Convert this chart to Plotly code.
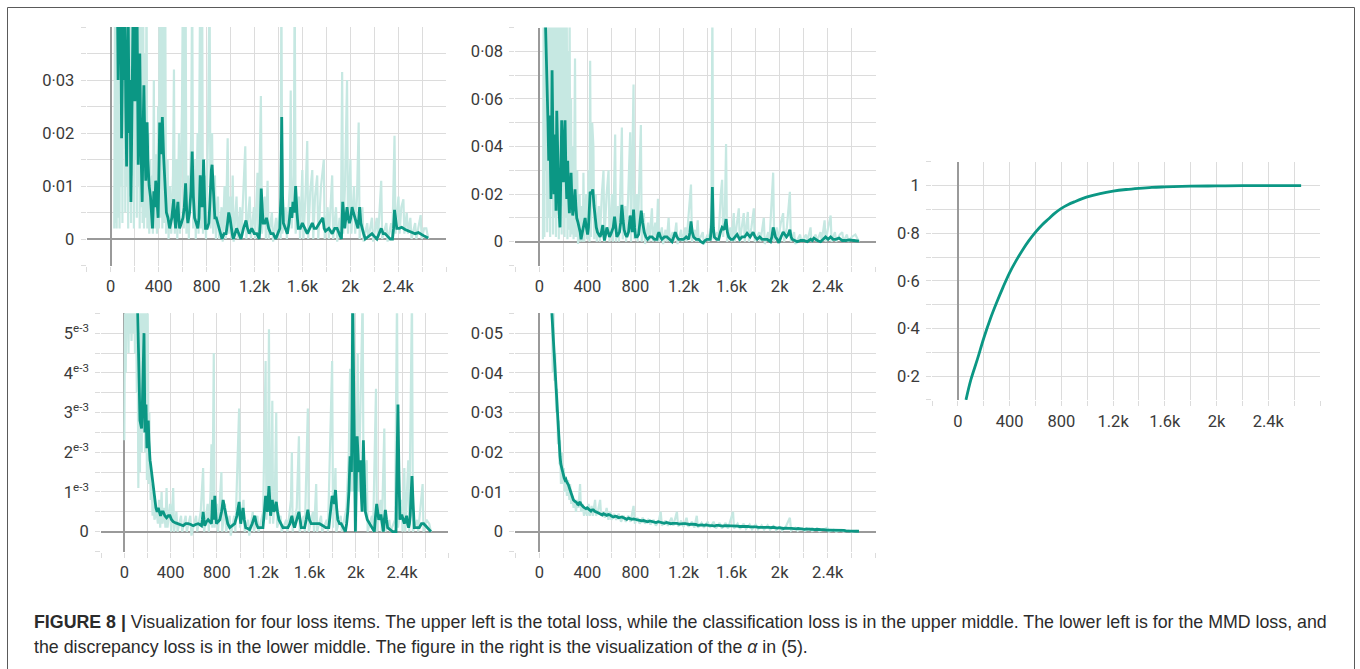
import plotly.graph_objects as go

# ---------------- data ----------------
# Panel 1: total loss
total_raw_x = [30, 36, 40, 45, 50, 56, 62, 68, 74, 80, 86, 92, 98, 104, 110, 116, 122, 128, 134, 140, 146, 152, 158, 164, 170, 176, 182, 188, 194, 200, 206, 212, 218, 224, 230, 236, 242, 248, 254, 260, 266, 272, 278, 285, 292, 299, 306, 315, 322, 330, 338, 345, 352, 360, 367, 378, 386, 396, 403, 409, 416, 424, 431, 440, 447, 455, 462, 475, 483, 495, 505, 520, 528, 535, 548, 556, 570, 578, 595, 603, 610, 625, 632, 645, 652, 672, 680, 688, 700, 710, 725, 733, 747, 754, 763, 770, 785, 795, 812, 825, 833, 846, 855, 870, 878, 895, 905, 925, 935, 950, 960, 976, 985, 1000, 1010, 1018, 1026, 1050, 1060, 1080, 1090, 1123, 1132, 1160, 1170, 1195, 1205, 1225, 1233, 1253, 1262, 1285, 1295, 1309, 1318, 1345, 1355, 1380, 1390, 1410, 1418, 1424, 1432, 1460, 1470, 1495, 1502, 1510, 1528, 1535, 1543, 1570, 1580, 1599, 1608, 1625, 1640, 1648, 1665, 1682, 1690, 1705, 1723, 1732, 1755, 1778, 1786, 1810, 1820, 1848, 1856, 1880, 1890, 1910, 1920, 1931, 1940, 1955, 1972, 1980, 2000, 2008, 2030, 2040, 2055, 2069, 2077, 2100, 2110, 2140, 2150, 2180, 2190, 2220, 2230, 2257, 2265, 2300, 2310, 2340, 2350, 2368, 2376, 2401, 2410, 2425, 2442, 2450, 2470, 2480, 2500, 2510, 2540, 2550, 2586, 2595, 2615, 2633, 2650]
total_raw_y = [0.002, 0.045, 0.003, 0.05, 0.002, 0.05, 0.004, 0.05, 0.002, 0.05, 0.01, 0.05, 0.003, 0.05, 0.02, 0.05, 0.005, 0.05, 0.01, 0.05, 0.002, 0.05, 0.008, 0.05, 0.003, 0.05, 0.012, 0.05, 0.002, 0.05, 0.015, 0.05, 0.004, 0.05, 0.01, 0.05, 0.002, 0.045, 0.006, 0.05, 0.003, 0.04, 0.002, 0.035, 0.004, 0.05, 0.002, 0.02, 0.001, 0.015, 0.002, 0.012, 0.001, 0.03, 0.002, 0.016, 0.001, 0.025, 0.002, 0.05, 0.004, 0.05, 0.002, 0.05, 0.003, 0.05, 0.001, 0.015, 0.0, 0.01, 0.001, 0.012, 0.032, 0.001, 0.015, 0.0, 0.02, 0.001, 0.025, 0.05, 0.002, 0.05, 0.001, 0.012, 0.0, 0.02, 0.05, 0.002, 0.015, 0.0, 0.02, 0.001, 0.05, 0.002, 0.05, 0.001, 0.012, 0.0, 0.02, 0.05, 0.002, 0.02, 0.001, 0.012, 0.0, 0.008, 0.0, 0.006, -0.0005, 0.01, 0.0, 0.019, 0.001, 0.008, 0.0, 0.012, -0.0005, 0.008, 0.0, 0.006, 0.0, 0.0175, 0.0, 0.008, 0.0, 0.006, 0.0, 0.0125, 0.0, 0.027, 0.001, 0.008, 0.0, 0.011, 0.0, 0.005, -0.0005, 0.004, 0.0, 0.006, 0.0, 0.05, 0.001, 0.006, 0.0, 0.01, 0.028, 0.002, 0.012, 0.05, 0.001, 0.008, 0.0, 0.013, 0.0, 0.008, 0.0185, 0.0, 0.009, 0.013, 0.0, 0.008, 0.012, 0.0, 0.01, 0.015, 0.0, 0.006, 0.0, 0.012, 0.0, 0.006, -0.0005, 0.004, 0.0, 0.0315, 0.001, 0.01, 0.03, 0.001, 0.015, 0.001, 0.01, 0.001, 0.008, 0.022, 0.0, 0.006, -0.0005, 0.003, 0.0, 0.004, -0.0005, 0.004, 0.0, 0.011, 0.0, 0.003, -0.0005, 0.003, 0.0, 0.0195, 0.001, 0.008, 0.001, 0.006, 0.0075, 0.001, 0.005, 0.001, 0.004, 0.0, 0.003, 0.0, 0.0045, 0.0, 0.002, 0.002, 0.0]
total_x = [55, 62, 70, 77, 84, 91, 98, 105, 112, 119, 126, 133, 140, 147, 155, 162, 169, 176, 182, 188, 195, 202, 209, 215, 221, 226, 230, 236, 243, 250, 257, 263, 270, 277, 285, 293, 298, 304, 310, 321, 332, 340, 349, 360, 368, 376, 386, 396, 402, 409, 420, 431, 441, 451, 465, 478, 492, 510, 526, 534, 542, 552, 561, 568, 575, 590, 603, 614, 625, 635, 644, 651, 658, 670, 680, 690, 700, 714, 727, 737, 747, 755, 763, 770, 775, 783, 791, 805, 819, 826, 833, 840, 846, 858, 869, 881, 893, 911, 929, 946, 963, 975, 985, 995, 1004, 1014, 1023, 1037, 1051, 1069, 1087, 1108, 1129, 1142, 1156, 1177, 1198, 1219, 1239, 1248, 1256, 1264, 1272, 1286, 1300, 1318, 1336, 1356, 1377, 1394, 1411, 1420, 1427, 1434, 1441, 1458, 1474, 1488, 1502, 1512, 1521, 1532, 1543, 1554, 1565, 1582, 1599, 1620, 1640, 1661, 1682, 1698, 1715, 1742, 1770, 1781, 1792, 1820, 1848, 1869, 1889, 1907, 1925, 1936, 1945, 1953, 1962, 1972, 1982, 1992, 2003, 2014, 2025, 2036, 2050, 2063, 2070, 2077, 2087, 2097, 2110, 2124, 2152, 2180, 2200, 2221, 2239, 2257, 2274, 2290, 2311, 2332, 2351, 2360, 2368, 2378, 2387, 2408, 2428, 2456, 2484, 2512, 2540, 2567, 2594, 2620, 2649]
total_y = [0.05, 0.03, 0.045, 0.035, 0.045, 0.019, 0.04, 0.045, 0.03, 0.045, 0.025, 0.0137, 0.03, 0.04, 0.02, 0.03, 0.007, 0.02, 0.04, 0.045, 0.035, 0.026, 0.038, 0.045, 0.04, 0.02, 0.014, 0.025, 0.035, 0.02, 0.012, 0.007, 0.02, 0.029, 0.018, 0.011, 0.015, 0.022, 0.015, 0.01, 0.008, 0.005, 0.002, 0.009, 0.006, 0.011, 0.007, 0.004, 0.012, 0.022, 0.016, 0.023, 0.016, 0.012, 0.005, 0.004, 0.002, 0.004, 0.0075, 0.004, 0.002, 0.005, 0.007, 0.004, 0.002, 0.003, 0.004, 0.006, 0.0105, 0.005, 0.003, 0.004, 0.005, 0.009, 0.0165, 0.008, 0.004, 0.003, 0.002, 0.004, 0.012, 0.009, 0.006, 0.01, 0.015, 0.008, 0.002, 0.002, 0.003, 0.006, 0.012, 0.013, 0.014, 0.008, 0.004, 0.004, 0.003, 0.001, 0.0, 0.001, 0.001, 0.003, 0.005, 0.004, 0.002, 0.001, 0.0, 0.001, 0.002, 0.001, 0.0, 0.002, 0.0035, 0.002, 0.001, 0.002, 0.001, 0.001, 0.0, 0.003, 0.0095, 0.006, 0.003, 0.003, 0.004, 0.002, 0.001, 0.001, 0.0, 0.001, 0.002, 0.008, 0.023, 0.008, 0.003, 0.002, 0.001, 0.003, 0.006, 0.004, 0.007, 0.005, 0.01, 0.005, 0.002, 0.002, 0.003, 0.002, 0.001, 0.002, 0.003, 0.002, 0.002, 0.003, 0.004, 0.002, 0.0015, 0.002, 0.001, 0.002, 0.002, 0.001, 0.0, 0.007, 0.004, 0.002, 0.004, 0.006, 0.004, 0.003, 0.004, 0.006, 0.005, 0.004, 0.003, 0.002, 0.004, 0.006, 0.003, 0.002, 0.001, 0.0, 0.0005, 0.001, 0.0005, 0.0, 0.001, 0.002, 0.001, 0.001, 0.0005, 0.0, 0.0, 0.002, 0.0055, 0.003, 0.002, 0.002, 0.0022, 0.0018, 0.0015, 0.0012, 0.001, 0.0012, 0.0008, 0.0005, 0.0002]

# Panel 2: classification loss
cls_raw_x = [30, 36, 42, 48, 54, 60, 66, 72, 78, 84, 90, 96, 102, 108, 114, 120, 126, 132, 138, 144, 150, 156, 162, 168, 174, 180, 186, 192, 198, 204, 210, 216, 222, 228, 234, 240, 246, 252, 258, 264, 270, 278, 285, 297, 304, 315, 322, 335, 342, 355, 362, 367, 374, 390, 398, 410, 417, 423, 430, 440, 450, 457, 470, 478, 495, 503, 520, 534, 541, 560, 576, 584, 605, 613, 631, 638, 655, 663, 687, 694, 715, 722, 740, 756, 763, 784, 791, 810, 818, 835, 845, 852, 870, 880, 905, 915, 937, 945, 965, 975, 987, 995, 1020, 1030, 1050, 1060, 1076, 1085, 1110, 1120, 1140, 1150, 1180, 1190, 1215, 1225, 1262, 1270, 1295, 1305, 1318, 1326, 1360, 1370, 1400, 1410, 1432, 1440, 1448, 1480, 1490, 1510, 1521, 1530, 1545, 1554, 1562, 1590, 1600, 1618, 1626, 1645, 1660, 1668, 1685, 1701, 1710, 1735, 1744, 1765, 1785, 1793, 1830, 1840, 1868, 1876, 1905, 1915, 1946, 1954, 1975, 1985, 2010, 2029, 2037, 2060, 2085, 2093, 2120, 2130, 2170, 2180, 2220, 2230, 2257, 2265, 2300, 2310, 2340, 2350, 2374, 2382, 2400, 2424, 2432, 2460, 2470, 2500, 2521, 2530, 2560, 2570, 2600, 2630, 2660]
cls_raw_y = [0.001, 0.1, 0.002, 0.1, 0.03, 0.1, 0.004, 0.1, 0.01, 0.1, 0.002, 0.1, 0.02, 0.1, 0.003, 0.1, 0.01, 0.1, 0.002, 0.1, 0.02, 0.1, 0.001, 0.1, 0.01, 0.1, 0.003, 0.1, 0.015, 0.1, 0.002, 0.1, 0.01, 0.1, 0.001, 0.08, 0.005, 0.1, 0.002, 0.06, 0.003, 0.04, 0.001, 0.077, 0.002, 0.03, -0.001, 0.02, 0.0, 0.015, 0.0, 0.029, 0.0, 0.02, 0.001, 0.03, 0.0, 0.076, 0.002, 0.05, 0.04, 0.001, 0.02, 0.0, 0.015, 0.0, 0.02, 0.03, 0.0, 0.02, 0.03, 0.0, 0.02, 0.0, 0.045, 0.0, 0.015, 0.0, 0.048, 0.001, 0.015, 0.0, 0.02, 0.046, 0.0, 0.066, 0.001, 0.02, 0.0, 0.03, 0.049, 0.0, 0.012, -0.001, 0.008, 0.0, 0.014, 0.0, 0.008, 0.0, 0.018, 0.0, 0.006, -0.001, 0.005, 0.0, 0.01, 0.0, 0.004, 0.0, 0.008, -0.001, 0.005, 0.0, 0.006, 0.0, 0.024, 0.0, 0.005, 0.0, 0.009, 0.0, 0.004, -0.001, 0.003, 0.0, 0.01, 0.1, 0.001, 0.004, 0.0, 0.02, 0.026, 0.002, 0.015, 0.041, 0.0, 0.006, 0.0, 0.012, 0.0, 0.008, 0.014, 0.0, 0.007, 0.012, 0.0, 0.0125, 0.0, 0.006, 0.014, 0.0, 0.004, 0.0, 0.01, -0.001, 0.004, 0.0, 0.029, 0.0, 0.006, 0.0, 0.008, 0.012, 0.0, 0.006, 0.021, 0.0, 0.004, -0.001, 0.003, 0.0, 0.003, 0.0, 0.006, 0.0, 0.003, 0.0, 0.004, 0.0, 0.009, 0.0, 0.005, 0.011, 0.0, 0.004, 0.0, 0.003, 0.004, 0.0, 0.003, 0.0, 0.002, 0.003, 0.0]
cls_x = [47, 57, 67, 72, 78, 84, 89, 93, 97, 102, 106, 114, 122, 127, 131, 135, 139, 145, 152, 158, 165, 172, 179, 186, 193, 200, 207, 214, 221, 228, 232, 236, 243, 250, 257, 264, 271, 278, 288, 297, 304, 311, 322, 334, 340, 347, 357, 367, 374, 381, 388, 395, 402, 409, 416, 423, 434, 445, 455, 464, 474, 484, 495, 506, 517, 528, 535, 542, 552, 562, 573, 584, 594, 603, 615, 626, 636, 645, 656, 667, 677, 687, 697, 706, 717, 728, 742, 756, 765, 773, 779, 784, 793, 801, 814, 826, 837, 848, 860, 873, 887, 901, 919, 937, 958, 979, 987, 995, 1008, 1020, 1041, 1062, 1083, 1104, 1118, 1131, 1145, 1159, 1180, 1201, 1222, 1243, 1253, 1262, 1273, 1284, 1305, 1326, 1344, 1362, 1379, 1396, 1410, 1423, 1432, 1440, 1448, 1456, 1475, 1493, 1507, 1521, 1538, 1554, 1565, 1576, 1594, 1612, 1629, 1646, 1667, 1687, 1708, 1729, 1754, 1779, 1796, 1813, 1834, 1854, 1875, 1896, 1910, 1924, 1935, 1946, 1956, 1965, 1979, 1993, 2011, 2029, 2043, 2057, 2071, 2085, 2095, 2104, 2125, 2146, 2174, 2202, 2230, 2257, 2271, 2285, 2313, 2341, 2362, 2382, 2403, 2424, 2445, 2466, 2494, 2521, 2549, 2577, 2618, 2660]
cls_y = [0.1, 0.08, 0.07, 0.05, 0.034, 0.045, 0.053, 0.03, 0.018, 0.04, 0.072, 0.04, 0.02, 0.03, 0.045, 0.025, 0.013, 0.055, 0.035, 0.02, 0.012, 0.006, 0.025, 0.051, 0.035, 0.025, 0.04, 0.051, 0.03, 0.018, 0.025, 0.034, 0.02, 0.012, 0.02, 0.029, 0.018, 0.011, 0.015, 0.022, 0.015, 0.01, 0.008, 0.006, 0.004, 0.001, 0.004, 0.007, 0.009, 0.01, 0.007, 0.004, 0.003, 0.006, 0.014, 0.021, 0.02, 0.022, 0.015, 0.01, 0.006, 0.004, 0.003, 0.002, 0.004, 0.007, 0.003, 0.0005, 0.003, 0.006, 0.004, 0.002, 0.003, 0.004, 0.006, 0.0105, 0.006, 0.002, 0.003, 0.004, 0.008, 0.0155, 0.009, 0.005, 0.003, 0.002, 0.004, 0.011, 0.007, 0.004, 0.008, 0.0135, 0.006, 0.002, 0.002, 0.003, 0.008, 0.013, 0.008, 0.004, 0.002, 0.001, 0.002, 0.002, 0.001, 0.001, 0.003, 0.004, 0.002, 0.001, 0.002, 0.002, 0.001, 0.0, 0.002, 0.004, 0.002, 0.001, 0.001, 0.001, 0.002, 0.001, 0.004, 0.0085, 0.004, 0.002, 0.001, 0.001, 0.0, -0.0005, 0.0005, 0.001, 0.001, 0.001, 0.006, 0.023, 0.006, 0.002, 0.001, 0.001, 0.004, 0.006, 0.005, 0.0095, 0.004, 0.002, 0.001, 0.001, 0.002, 0.003, 0.001, 0.002, 0.002, 0.0035, 0.002, 0.004, 0.002, 0.001, 0.002, 0.001, 0.001, 0.001, 0.0005, 0.0, 0.002, 0.006, 0.004, 0.002, 0.001, -0.0005, 0.002, 0.004, 0.003, 0.002, 0.003, 0.005, 0.002, 0.001, 0.0005, 0.0, 0.0005, 0.0005, 0.0, 0.001, 0.0005, 0.0015, 0.0005, 0.0, 0.001, 0.002, 0.001, 0.002, 0.001, 0.001, 0.0015, 0.0005, 0.0005, 0.0008, 0.0005, 0.0002]

# Panel 3: MMD loss
mmd_raw_x = [0, 6, 12, 18, 24, 30, 36, 42, 48, 55, 62, 70, 78, 85, 92, 100, 108, 115, 121, 128, 135, 142, 150, 158, 165, 172, 180, 188, 195, 202, 210, 216, 221, 228, 236, 244, 252, 260, 279, 290, 300, 310, 322, 330, 345, 355, 365, 373, 395, 405, 422, 430, 450, 460, 490, 500, 530, 540, 570, 580, 620, 630, 660, 681, 690, 720, 730, 745, 753, 760, 773, 780, 800, 810, 839, 846, 870, 880, 910, 920, 950, 960, 992, 1000, 1030, 1040, 1070, 1080, 1110, 1120, 1150, 1160, 1200, 1221, 1228, 1240, 1250, 1258, 1270, 1279, 1286, 1300, 1313, 1320, 1350, 1360, 1400, 1410, 1440, 1448, 1455, 1490, 1509, 1516, 1550, 1560, 1586, 1594, 1630, 1640, 1658, 1666, 1700, 1710, 1750, 1760, 1796, 1804, 1825, 1832, 1870, 1880, 1920, 1940, 1951, 1960, 1969, 1977, 1990, 2003, 2017, 2025, 2040, 2060, 2068, 2080, 2095, 2103, 2140, 2150, 2175, 2183, 2215, 2225, 2247, 2255, 2290, 2300, 2340, 2357, 2365, 2395, 2405, 2420, 2428, 2454, 2462, 2486, 2494, 2530, 2540, 2578, 2586, 2610, 2635, 2650]
mmd_raw_y = [0.0023, 0.006, 0.004, 0.006, 0.005, 0.006, 0.0045, 0.006, 0.005, 0.006, 0.0048, 0.006, 0.005, 0.006, 0.0045, 0.006, 0.0035, 0.0045, 0.0011, 0.004, 0.0015, 0.006, 0.002, 0.006, 0.0025, 0.006, 0.002, 0.006, 0.0013, 0.0055, 0.0012, 0.003, 0.0019, 0.0008, 0.0012, 0.0004, 0.0009, 0.0003, 0.0005, 0.0002, 0.0008, 0.0001, 0.001, 0.0002, 0.0006, 0.0001, 0.0011, 0.0001, 0.0007, 0.0, 0.0011, 0.0, 0.0005, 0.0, 0.0004, 0.0, 0.0004, 0.0, 0.0004, -0.0001, 0.0004, 0.0, 0.0005, 0.0016, 0.0, 0.0007, 0.0, 0.001, 0.0022, 0.0001, 0.0045, 0.0001, 0.0007, 0.0, 0.0015, 0.0, 0.0007, 0.0, 0.0004, -0.0001, 0.0004, 0.0, 0.0031, 0.0001, 0.0008, 0.0, 0.0003, -0.0001, 0.0005, 0.0, 0.0004, 0.0, 0.0005, 0.0043, 0.0003, 0.0009, 0.0051, 0.0002, 0.001, 0.0033, 0.0002, 0.0008, 0.003, 0.0001, 0.0004, 0.0, 0.0003, 0.0, 0.0008, 0.002, 0.0, 0.0006, 0.0024, 0.0, 0.0004, 0.0, 0.0031, 0.0, 0.0005, 0.0, 0.0012, 0.0, 0.0004, 0.0, 0.0003, 0.0, 0.0043, 0.0001, 0.0016, 0.0, 0.0004, 0.0, 0.0006, 0.002, 0.0041, 0.001, 0.006, 0.001, 0.003, 0.0, 0.0045, 0.001, 0.003, 0.006, 0.0005, 0.0015, 0.0018, 0.0, 0.0004, 0.0, 0.0036, 0.0, 0.0008, 0.0, 0.0026, 0.0, 0.0003, 0.0, 0.0003, 0.006, 0.0001, 0.0008, 0.0, 0.0016, 0.0, 0.0018, 0.0, 0.006, 0.0, 0.0003, 0.0, 0.0012, 0.0, 0.0003, 0.0002, 0.0]
mmd_x = [112, 118, 124, 130, 135, 142, 149, 154, 158, 164, 170, 174, 178, 183, 187, 191, 195, 201, 207, 212, 216, 222, 227, 236, 244, 252, 259, 266, 273, 283, 293, 303, 313, 325, 336, 350, 365, 380, 394, 408, 422, 444, 466, 488, 509, 530, 552, 574, 595, 616, 638, 652, 667, 674, 681, 688, 695, 710, 724, 739, 753, 758, 762, 767, 773, 778, 782, 789, 796, 810, 825, 840, 854, 866, 877, 894, 911, 932, 954, 973, 992, 999, 1006, 1016, 1026, 1037, 1049, 1066, 1083, 1105, 1127, 1141, 1155, 1176, 1198, 1210, 1221, 1228, 1236, 1243, 1250, 1257, 1264, 1271, 1279, 1286, 1293, 1303, 1313, 1324, 1336, 1353, 1371, 1392, 1414, 1431, 1448, 1460, 1471, 1490, 1509, 1519, 1529, 1543, 1558, 1572, 1586, 1600, 1615, 1636, 1658, 1687, 1716, 1741, 1767, 1781, 1796, 1806, 1816, 1820, 1825, 1835, 1845, 1860, 1874, 1892, 1911, 1921, 1931, 1941, 1951, 1957, 1963, 1968, 1974, 1981, 1989, 1993, 1997, 2004, 2012, 2019, 2026, 2033, 2040, 2047, 2055, 2060, 2066, 2074, 2083, 2100, 2118, 2140, 2161, 2171, 2181, 2190, 2199, 2209, 2219, 2229, 2239, 2247, 2256, 2266, 2276, 2297, 2319, 2333, 2348, 2356, 2365, 2373, 2382, 2391, 2400, 2410, 2420, 2430, 2440, 2448, 2457, 2464, 2471, 2478, 2486, 2496, 2506, 2527, 2549, 2568, 2587, 2604, 2621, 2635, 2650]
mmd_y = [0.006, 0.005, 0.0045, 0.0035, 0.0028, 0.0027, 0.0026, 0.003, 0.0037, 0.0045, 0.005, 0.0038, 0.0025, 0.0029, 0.0032, 0.0026, 0.0021, 0.0025, 0.0028, 0.0023, 0.002, 0.0018, 0.0017, 0.0015, 0.0013, 0.0011, 0.0009, 0.0007, 0.0006, 0.0005, 0.0006, 0.0005, 0.0004, 0.0005, 0.0005, 0.0004, 0.00035, 0.0004, 0.0004, 0.0003, 0.00025, 0.00022, 0.0002, 0.00018, 0.00015, 0.0002, 0.0002, 0.00018, 0.00015, 0.00018, 0.0002, 0.00018, 0.00015, 0.0003, 0.0005, 0.0003, 0.00015, 0.00025, 0.0003, 0.00025, 0.0002, 0.0005, 0.0008, 0.0005, 0.0003, 0.0006, 0.0009, 0.0005, 0.0002, 0.00025, 0.0003, 0.0005, 0.0008, 0.0006, 0.0004, 0.0002, 0.0001, 0.00015, 0.0002, 0.0004, 0.00075, 0.0004, 0.0002, 0.0004, 0.0006, 0.0003, 0.0001, 0.00008, 0.00005, 0.0002, 0.0004, 0.0002, 0.0001, 0.0001, 0.0001, 0.0005, 0.0009, 0.0007, 0.0005, 0.0008, 0.00115, 0.0008, 0.0004, 0.0006, 0.0008, 0.0006, 0.0005, 0.0006, 0.00075, 0.0005, 0.0003, 0.0002, 0.0001, 0.0001, 0.0001, 0.0002, 0.0004, 0.0002, 0.0001, 0.0003, 0.0005, 0.0003, 0.0001, 0.0001, 0.0001, 0.0003, 0.00055, 0.0003, 0.0002, 0.0002, 0.0002, 0.0002, 0.00015, 0.0001, 0.0001, 0.0005, 0.0009, 0.0008, 0.0007, 0.0009, 0.00105, 0.0006, 0.0003, 0.0002, 0.0002, 0.0001, 0.0, 0.0002, 0.0005, 0.001, 0.0019, 0.0017, 0.0015, 0.003, 0.006, 0.004, 0.002, 0.001, 0.0, 0.0012, 0.0024, 0.002, 0.0015, 0.0017, 0.0018, 0.001, 0.0005, 0.0014, 0.0023, 0.0014, 0.0005, 0.0003, 0.0002, 0.0001, 0.0, 0.0004, 0.0007, 0.0005, 0.0003, 0.0004, 0.0004, 0.0002, 0.0, 0.0003, 0.00055, 0.0003, 0.0001, 0.00005, 0.0, 0.0, 0.0, 0.0016, 0.0032, 0.0015, 0.0003, 0.0004, 0.0004, 0.0003, 0.0002, 0.0003, 0.0004, 0.0002, 0.0001, 0.0002, 0.0004, 0.0009, 0.0014, 0.0007, 0.0001, 0.0001, 0.0001, 0.0002, 0.0002, 0.00015, 0.0001, 0.00005, 0.0]

# Panel 4: discrepancy loss
dis_raw_x = [95, 105, 112, 118, 125, 132, 140, 147, 155, 162, 168, 172, 180, 188, 196, 204, 212, 220, 230, 240, 250, 256, 265, 275, 285, 295, 305, 315, 325, 339, 347, 360, 372, 385, 398, 410, 420, 435, 445, 464, 472, 490, 506, 514, 530, 545, 560, 575, 589, 600, 620, 640, 660, 680, 700, 720, 740, 760, 784, 795, 815, 835, 860, 880, 905, 925, 950, 970, 995, 1010, 1020, 1050, 1070, 1100, 1115, 1145, 1155, 1180, 1200, 1225, 1240, 1270, 1290, 1310, 1320, 1350, 1370, 1400, 1420, 1450, 1470, 1500, 1520, 1550, 1570, 1612, 1620, 1650, 1670, 1700, 1720, 1750, 1770, 1800, 1820, 1850, 1870, 1900, 1920, 1950, 1970, 2000, 2020, 2050, 2085, 2095, 2130, 2150, 2190, 2210, 2250, 2270, 2310, 2330, 2370, 2396, 2410, 2450, 2470, 2510, 2530, 2570, 2600, 2640, 2660]
dis_raw_y = [0.06, 0.055, 0.04, 0.058, 0.038, 0.045, 0.03, 0.036, 0.022, 0.028, 0.017, 0.023, 0.012, 0.02, 0.012, 0.016, 0.01, 0.014, 0.009, 0.013, 0.008, 0.012, 0.007, 0.009, 0.006, 0.008, 0.005, 0.008, 0.006, 0.012, 0.005, 0.007, 0.004, 0.006, 0.004, 0.007, 0.004, 0.0065, 0.004, 0.008, 0.004, 0.0055, 0.008, 0.004, 0.005, 0.0035, 0.006, 0.003, 0.005, 0.003, 0.0045, 0.003, 0.0045, 0.0025, 0.004, 0.0025, 0.004, 0.0025, 0.0065, 0.002, 0.0035, 0.002, 0.0035, 0.002, 0.003, 0.0018, 0.003, 0.0015, 0.0028, 0.005, 0.0015, 0.0028, 0.0015, 0.0035, 0.0015, 0.005, 0.0013, 0.0028, 0.0012, 0.0035, 0.0012, 0.0025, 0.001, 0.004, 0.001, 0.0022, 0.001, 0.0025, 0.001, 0.0025, 0.0008, 0.0022, 0.0008, 0.0022, 0.0008, 0.005, 0.0008, 0.002, 0.0007, 0.002, 0.0007, 0.0018, 0.0006, 0.0018, 0.0006, 0.0016, 0.0005, 0.0016, 0.0005, 0.0014, 0.0004, 0.0012, 0.0003, 0.0012, 0.0035, 0.0003, 0.001, 0.0002, 0.0009, 0.0002, 0.0008, 0.0001, 0.0007, 0.0001, 0.0006, 0.001, 0.0, 0.0005, 0.0, 0.0004, 0.0, 0.0003, 0.0, 0.0002, 0.0]
dis_x = [95, 108, 117, 124, 131, 138, 145, 152, 158, 165, 172, 179, 186, 193, 200, 207, 214, 221, 228, 242, 256, 270, 284, 297, 311, 318, 325, 332, 339, 346, 353, 360, 367, 377, 388, 398, 409, 419, 430, 440, 450, 461, 471, 482, 492, 503, 513, 524, 534, 547, 561, 575, 589, 603, 617, 631, 645, 659, 673, 687, 701, 714, 728, 742, 756, 770, 784, 798, 812, 826, 840, 853, 867, 884, 902, 919, 937, 954, 971, 989, 1006, 1023, 1041, 1058, 1076, 1093, 1110, 1128, 1145, 1163, 1180, 1197, 1215, 1232, 1250, 1267, 1284, 1302, 1319, 1336, 1354, 1371, 1388, 1406, 1423, 1440, 1458, 1475, 1493, 1510, 1527, 1545, 1562, 1580, 1597, 1614, 1632, 1649, 1667, 1684, 1701, 1719, 1736, 1753, 1771, 1788, 1805, 1823, 1840, 1858, 1875, 1892, 1910, 1927, 1945, 1962, 1979, 1997, 2014, 2031, 2049, 2066, 2084, 2101, 2118, 2136, 2153, 2171, 2188, 2205, 2223, 2240, 2257, 2275, 2292, 2310, 2327, 2344, 2362, 2379, 2396, 2414, 2431, 2449, 2466, 2483, 2501, 2518, 2535, 2553, 2570, 2588, 2605, 2622, 2640, 2660]
dis_y = [0.06, 0.053, 0.05, 0.046, 0.04, 0.036, 0.033, 0.029, 0.025, 0.021, 0.019, 0.017, 0.016, 0.0155, 0.0145, 0.0135, 0.013, 0.0132, 0.0125, 0.0118, 0.0105, 0.0092, 0.008, 0.0076, 0.0073, 0.0069, 0.0068, 0.0072, 0.0075, 0.0069, 0.0066, 0.0064, 0.0062, 0.006, 0.0058, 0.006, 0.0057, 0.0054, 0.0052, 0.0055, 0.0055, 0.0051, 0.0049, 0.0047, 0.0047, 0.0045, 0.0044, 0.0042, 0.0045, 0.0043, 0.0041, 0.0043, 0.0042, 0.0039, 0.0037, 0.0039, 0.0038, 0.0035, 0.0036, 0.0037, 0.0035, 0.0032, 0.0031, 0.0034, 0.0033, 0.0031, 0.0032, 0.003, 0.003, 0.0029, 0.0028, 0.0027, 0.0028, 0.0026, 0.0025, 0.0027, 0.0026, 0.0024, 0.0023, 0.0025, 0.0024, 0.0022, 0.0021, 0.0023, 0.0022, 0.002, 0.0021, 0.0022, 0.0021, 0.0019, 0.002, 0.002, 0.002, 0.0019, 0.0018, 0.0019, 0.0019, 0.0018, 0.0016, 0.0017, 0.0017, 0.0016, 0.0017, 0.0016, 0.0016, 0.0015, 0.0014, 0.0016, 0.0016, 0.0015, 0.0014, 0.0015, 0.0015, 0.0015, 0.0014, 0.0015, 0.0014, 0.0014, 0.0013, 0.0013, 0.0014, 0.0013, 0.0013, 0.0012, 0.0012, 0.0013, 0.0012, 0.0011, 0.0011, 0.0012, 0.0011, 0.0011, 0.0011, 0.001, 0.0011, 0.001, 0.0009, 0.001, 0.0009, 0.0008, 0.0009, 0.0008, 0.0008, 0.0008, 0.0007, 0.0007, 0.0008, 0.0007, 0.0007, 0.0006, 0.0007, 0.0006, 0.0006, 0.0006, 0.0005, 0.0006, 0.0005, 0.0005, 0.0005, 0.0004, 0.0004, 0.0004, 0.0004, 0.0003, 0.0004, 0.0003, 0.0003, 0.0003, 0.0003, 0.0002, 0.0002, 0.0002, 0.0002, 0.0001, 0.0001, 0.0001]

# Panel 5: alpha
alpha_x = [62, 100, 150, 200, 250, 300, 350, 400, 450, 500, 550, 600, 650, 700, 750, 800, 850, 900, 1000, 1100, 1200, 1300, 1400, 1500, 1600, 1800, 2000, 2200, 2400, 2654]
alpha_y = [0.10, 0.185, 0.27, 0.36, 0.44, 0.51, 0.575, 0.635, 0.685, 0.73, 0.77, 0.805, 0.835, 0.86, 0.885, 0.905, 0.92, 0.932, 0.953, 0.967, 0.977, 0.984, 0.989, 0.993, 0.995, 0.998, 0.999, 1.0, 1.0, 1.0]

# axis ticks
x_tickvals = [-200, 0, 200, 400, 600, 800, 1000, 1200, 1400, 1600, 1800, 2000, 2200, 2400, 2600, 2800]
x_ticktext = ["", "0", "", "400", "", "800", "", "1.2k", "", "1.6k", "", "2k", "", "2.4k", "", ""]

y1_vals = [-0.005, 0, 0.005, 0.01, 0.015, 0.02, 0.025, 0.03, 0.035, 0.04]
y1_text = ["", "0", "", "0·01", "", "0·02", "", "0·03", "", ""]
y2_vals = [-0.01, 0, 0.01, 0.02, 0.03, 0.04, 0.05, 0.06, 0.07, 0.08, 0.09]
y2_text = ["", "0", "", "0·02", "", "0·04", "", "0·06", "", "0·08", ""]
y3_vals = [-0.0005, 0, 0.0005, 0.001, 0.0015, 0.002, 0.0025, 0.003, 0.0035, 0.004, 0.0045, 0.005, 0.0055]
y3_text = ["", "0", "", "1<sup>e-3</sup>", "", "2<sup>e-3</sup>", "", "3<sup>e-3</sup>", "", "4<sup>e-3</sup>", "", "5<sup>e-3</sup>", ""]
y4_vals = [-0.005, 0, 0.005, 0.01, 0.015, 0.02, 0.025, 0.03, 0.035, 0.04, 0.045, 0.05, 0.055]
y4_text = ["", "0", "", "0·01", "", "0·02", "", "0·03", "", "0·04", "", "0·05", ""]
y5_vals = [0.1, 0.2, 0.3, 0.4, 0.5, 0.6, 0.7, 0.8, 0.9, 1.0, 1.1]
y5_text = ["", "0·2", "", "0·4", "", "0·6", "", "0·8", "", "1", ""]

caption_1 = ("<b>FIGURE 8 |</b> Visualization for four loss items. The upper left is the total loss, "
             "while the classification loss is in the upper middle. The lower left is for the MMD loss, and")
caption_2 = ("the discrepancy loss is in the lower middle. The figure in the right is the visualization of the "
             "<i>α</i> in (5).")

# ---------------- styling ----------------
W, H = 1360, 669
DARK = "#0b9784"
LIGHT = "#c6e8e2"
GRID = "#dcdcdc"
ZERO = "#9a9a9a"
TICKFONT = dict(family="Roboto, Arial, sans-serif", size=16.5, color="#3a3a3a")

# pixel boxes (left, right, top, bottom) for each panel
boxes = [
    (86.7, 446.3, 27.0, 265.5),
    (515.3, 875.8, 27.5, 265.5),
    (101.2, 448.3, 313.3, 551.5),
    (515.3, 875.8, 313.3, 551.5),
    (932.1, 1320.0, 161.9, 399.9),
]
yranges = [[-0.005, 0.04], [-0.01, 0.09], [-0.0005, 0.0055], [-0.005, 0.055], [0.1, 1.1]]
yticks = [(y1_vals, y1_text), (y2_vals, y2_text), (y3_vals, y3_text), (y4_vals, y4_text), (y5_vals, y5_text)]

series = [
    (total_raw_x, total_raw_y, total_x, total_y),
    (cls_raw_x, cls_raw_y, cls_x, cls_y),
    (mmd_raw_x, mmd_raw_y, mmd_x, mmd_y),
    (dis_raw_x, dis_raw_y, dis_x, dis_y),
    (None, None, alpha_x, alpha_y),
]

fig = go.Figure()
layout = {}
for i, (box, yr, (tv, tt), ser) in enumerate(zip(boxes, yranges, yticks, series), start=1):
    l, r, t, b = box
    xa = "xaxis" if i == 1 else f"xaxis{i}"
    ya = "yaxis" if i == 1 else f"yaxis{i}"
    xref = "x" if i == 1 else f"x{i}"
    yref = "y" if i == 1 else f"y{i}"
    layout[xa] = dict(
        domain=[l / W, r / W], anchor=yref, range=[-200, 2800],
        tickmode="array", tickvals=x_tickvals, ticktext=x_ticktext,
        showgrid=True, gridcolor=GRID, gridwidth=1,
        zeroline=True, zerolinecolor=ZERO, zerolinewidth=1.6,
        ticks="outside", ticklen=5, tickcolor=GRID, tickwidth=1,
        ticklabelstandoff=1, tickfont=TICKFONT, showline=False, fixedrange=True,
    )
    layout[ya] = dict(
        domain=[1 - b / H, 1 - t / H], anchor=xref, range=yr,
        tickmode="array", tickvals=tv, ticktext=tt,
        showgrid=True, gridcolor=GRID, gridwidth=1,
        zeroline=True, zerolinecolor=ZERO, zerolinewidth=1.6,
        ticks="outside", ticklen=5, tickcolor=GRID, tickwidth=1,
        ticklabelstandoff=3, tickfont=TICKFONT, showline=False, fixedrange=True,
    )
    rx, ry, sx, sy = ser
    if rx is not None:
        fig.add_trace(go.Scatter(x=rx, y=ry, mode="lines", xaxis=xref, yaxis=yref,
                                 line=dict(color=LIGHT, width=2.2), hoverinfo="skip", showlegend=False))
    fig.add_trace(go.Scatter(x=sx, y=sy, mode="lines", xaxis=xref, yaxis=yref,
                             line=dict(color=DARK, width=2.8, shape="spline" if i == 5 else "linear"),
                             showlegend=False))

fig.update_layout(
    width=W, height=H, margin=dict(l=0, r=0, t=0, b=0),
    paper_bgcolor="white", plot_bgcolor="white", showlegend=False,
    **layout,
)

# frame around the figure and caption
fig.add_shape(type="rect", xref="paper", yref="paper",
              x0=7.5 / W, x1=1354.5 / W, y0=-0.05, y1=1 - 7.5 / H,
              line=dict(color="#5a5a5a", width=1), fillcolor="rgba(0,0,0,0)", layer="below")

CAPFONT = dict(family="Liberation Sans, Arial, sans-serif", size=17.8, color="#2b2b2b")
fig.add_annotation(text=caption_1, xref="paper", yref="paper", x=32 / W, y=1 - 622 / H,
                   xanchor="left", yanchor="middle", showarrow=False, font=CAPFONT, align="left")
fig.add_annotation(text=caption_2, xref="paper", yref="paper", x=32 / W, y=1 - 647 / H,
                   xanchor="left", yanchor="middle", showarrow=False, font=CAPFONT, align="left")

fig.write_html("out.html")
